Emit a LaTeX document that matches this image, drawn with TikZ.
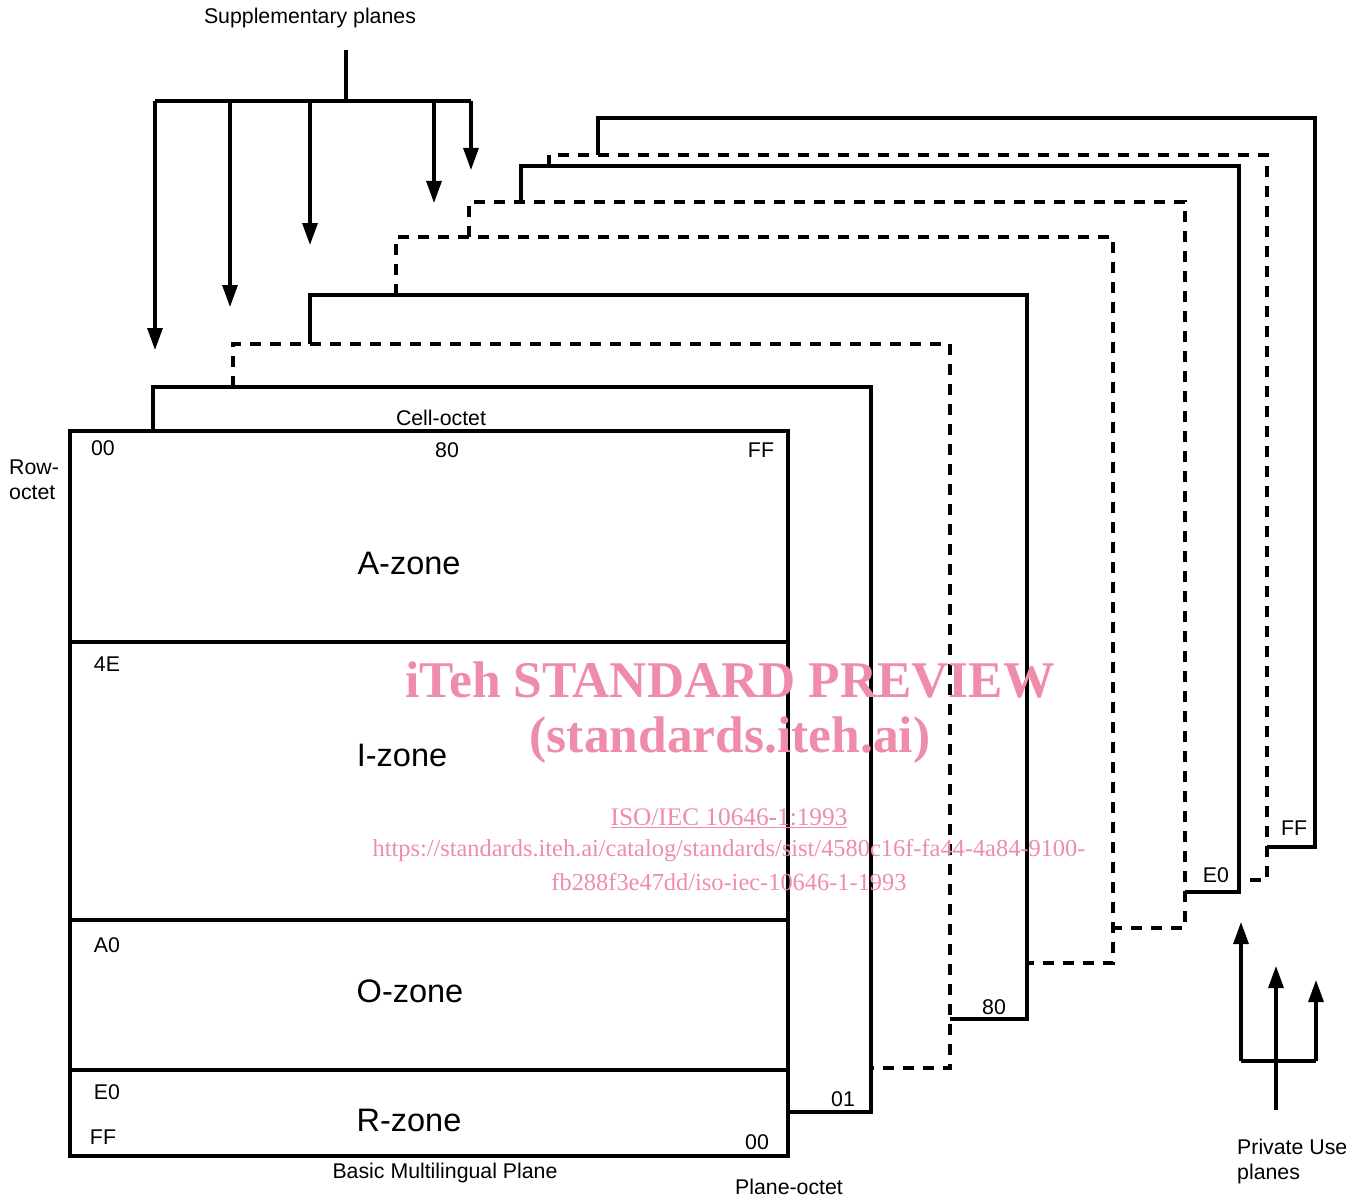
\documentclass[tikz,border=0pt]{standalone}
\usepackage{fontspec}
\setmainfont{Liberation Sans}
\newfontfamily\wmfont{Liberation Serif}
\usetikzlibrary{arrows.meta}
\definecolor{wm}{RGB}{238,140,170}
\begin{document}
\begin{tikzpicture}[x=1pt,y=-1pt,
  edge/.style={line width=3.2pt},
  dashedge/.style={line width=3.2pt, dash pattern=on 11pt off 9pt},
  arr/.style={line width=3.2pt,-{Triangle[length=22pt,width=15pt]}},
  lbl/.style={font=\fontsize{21.3}{23}\selectfont, inner sep=0pt},
  zone/.style={font=\fontsize{32.5}{35}\selectfont, inner sep=0pt},
  wmtext/.style={text=wm, inner sep=0pt}]
\useasboundingbox (0,0) rectangle (1362,1201);

% front plane (BMP)
\draw[edge] (70,431) rectangle (788,1156);
\draw[edge] (70,642) -- (788,642);
\draw[edge] (70,920) -- (788,920);
\draw[edge] (70,1070) -- (788,1070);

% planes behind
\draw[edge]     (153,431) -- (153,387) -- (871,387) -- (871,1112) -- (788,1112);
\draw[dashedge] (233,387) -- (233,344) -- (950,344) -- (950,1068) -- (871,1068);
\draw[edge]     (310,344) -- (310,295) -- (1027,295) -- (1027,1019) -- (950,1019);
\draw[dashedge] (396,295) -- (396,237) -- (1113,237) -- (1113,963) -- (1027,963);
\draw[dashedge] (469,237) -- (469,202) -- (1185,202) -- (1185,928) -- (1113,928);
\draw[edge]     (521,202) -- (521,166) -- (1239,166) -- (1239,892) -- (1185,892);
\draw[dashedge] (549,166) -- (549,155) -- (1267,155) -- (1267,880) -- (1239,880);
\draw[edge]     (598,155) -- (598,118) -- (1315,118) -- (1315,847) -- (1267,847);

% supplementary planes arrows
\coordinate (sTop) at (346,50);
\coordinate (sMid) at (346,101);
\coordinate (sL) at (155,101);
\coordinate (sR) at (471,101);
\coordinate (s1a) at (155,101); \coordinate (s1b) at (155,350);
\coordinate (s2a) at (230,101); \coordinate (s2b) at (230,307);
\coordinate (s3a) at (310,101); \coordinate (s3b) at (310,245);
\coordinate (s4a) at (434,101); \coordinate (s4b) at (434,203);
\coordinate (s5a) at (471,101); \coordinate (s5b) at (471,170);
\draw[edge] (sTop) -- (sMid);
\draw[edge] (sL) -- (sR);
\draw[arr] (s1a) -- (s1b);
\draw[arr] (s2a) -- (s2b);
\draw[arr] (s3a) -- (s3b);
\draw[arr] (s4a) -- (s4b);
\draw[arr] (s5a) -- (s5b);

% private use arrows
\coordinate (pBot) at (1276,1110);
\coordinate (pTip) at (1276,966);
\coordinate (pL) at (1241,1061);
\coordinate (pR) at (1316,1061);
\coordinate (pLt) at (1241,922);
\coordinate (pRt) at (1316,980);
\draw[edge] (pL) -- (pR);
\draw[arr] (pBot) -- (pTip);
\draw[arr] (pL) -- (pLt);
\draw[arr] (pR) -- (pRt);

% labels
\node[lbl] (supp) at (310,18) {Supplementary planes};
\node[lbl] (cell) at (441,418) {Cell-octet};
\node[lbl, anchor=west] (row1) at (9,467) {Row-};
\node[lbl, anchor=west] (row2) at (9,493) {octet};
\node[lbl] (c00) at (103,448) {00};
\node[lbl] (c80) at (447,450) {80};
\node[lbl] (cFF) at (761,450) {FF};
\node[zone] (az) at (409,563) {A-zone};
\node[lbl] (r4E) at (107,664) {4E};
\node[zone] (iz) at (402,755) {I-zone};
\node[lbl] (rA0) at (107,945) {A0};
\node[zone] (oz) at (410,991) {O-zone};
\node[lbl] (rE0) at (107,1092) {E0};
\node[lbl] (rFF) at (103,1137) {FF};
\node[zone] (rz) at (409,1120) {R-zone};
\node[lbl] (p00) at (757,1142) {00};
\node[lbl] (bmp) at (445,1173) {Basic Multilingual Plane};
\node[lbl] (poct) at (789,1187) {Plane-octet};
\node[lbl] (p01) at (843,1099) {01};
\node[lbl] (p80) at (994,1007) {80};
\node[lbl] (pE0) at (1216,875) {E0};
\node[lbl] (pFF) at (1294,828) {FF};
\node[lbl, anchor=west] (pu1) at (1237,1147) {Private Use};
\node[lbl, anchor=west] (pu2) at (1237,1174) {planes};

% watermark
\node[wmtext, font=\wmfont\bfseries\fontsize{51.5}{53}\selectfont] (wm1) at (730,680) {iTeh STANDARD PREVIEW};
\node[wmtext, font=\wmfont\bfseries\fontsize{51.5}{53}\selectfont] (wm2) at (730,740) {(standards.iteh.ai)};
\node[wmtext, font=\wmfont\fontsize{25.3}{27}\selectfont] (wm3) at (729,818) {\underline{ISO/IEC 10646-1:1993}};
\node[wmtext, font=\wmfont\fontsize{24.4}{27}\selectfont] (wm4) at (729,851) {https://standards.iteh.ai/catalog/standards/sist/4580c16f-fa44-4a84-9100-};
\node[wmtext, font=\wmfont\fontsize{24.4}{27}\selectfont] (wm5) at (729,882) {fb288f3e47dd/iso-iec-10646-1-1993};
\end{tikzpicture}
\end{document}
